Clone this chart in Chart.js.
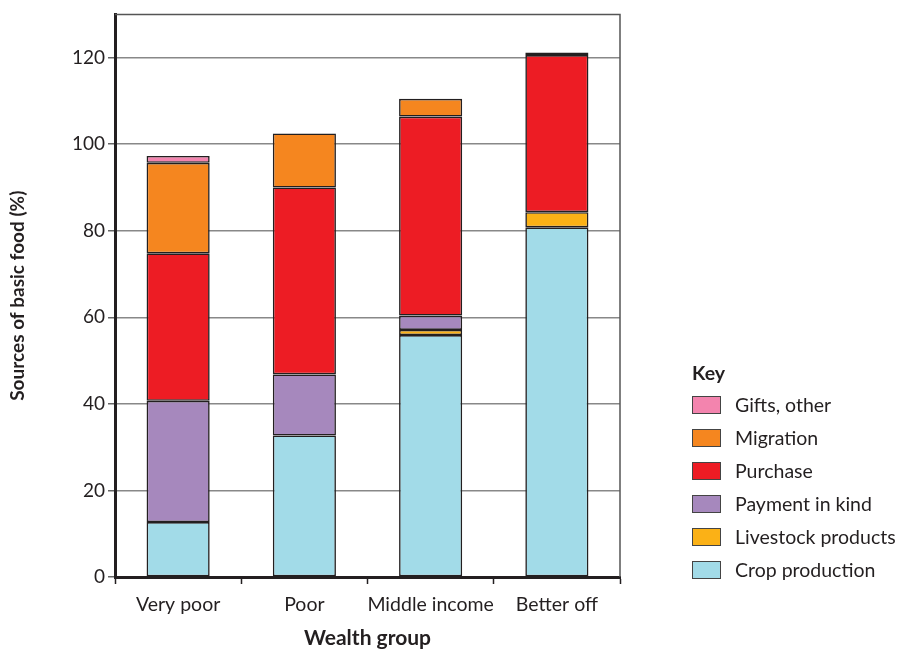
<!DOCTYPE html>
<html><head><meta charset="utf-8">
<script src="https://cdn.jsdelivr.net/npm/chart.js@4/dist/chart.umd.min.js"></script>
<style>
html,body{margin:0;padding:0;background:#fff;}
#wrap{position:relative;width:899px;height:652px;}
#legend{position:absolute;left:692px;top:360px;font-family:Lato,"Open Sans",sans-serif;color:#231f20;}
#legend .key{font-weight:bold;font-size:19.5px;height:26px;line-height:26px;margin-bottom:2px;}
#legend .row{display:flex;align-items:center;height:33px;font-size:19.5px;white-space:nowrap;}
#legend .sw{width:29px;height:18px;border:1.5px solid #444;margin-right:14px;box-sizing:border-box;}
</style></head>
<body><div id="wrap"><canvas id="c" width="899" height="652"></canvas><div id="legend"></div></div>
<script>
const categories = ["Very poor", "Poor", "Middle income", "Better off"];
const seriesNames = ["Crop production", "Livestock products", "Payment in kind", "Purchase", "Migration", "Gifts, other"];
const cropProduction   = [12.7, 32.7, 55.9, 80.8];
const livestockProducts= [0, 0, 1.2, 3.5];
const paymentInKind    = [28.0, 14.1, 3.3, 0];
const purchase         = [34.1, 43.2, 46.0, 36.3];
const migration        = [20.9, 12.5, 4.1, 0.6];
const giftsOther       = [1.6, 0, 0, 0];
const seriesColors = ["#a2dbe8", "#fbb116", "#a688bd", "#ed1c24", "#f5861f", "#f384ae"];
const yTicks = [0, 20, 40, 60, 80, 100, 120];
const yMax = 130;

const seriesData = [cropProduction, livestockProducts, paymentInKind, purchase, migration, giftsOther];
const datasets = seriesNames.map((n, i) => ({
  label: n, data: seriesData[i], backgroundColor: seriesColors[i],
  borderColor: "#231f20", borderWidth: c => (c.raw ? 1.6 : 0), borderSkipped: false,
  categoryPercentage: 1, barPercentage: 0.5
}));

const frame = {
  id: "frame",
  afterDatasetsDraw(chart) {
    const {ctx, chartArea: a} = chart;
    ctx.save();
    ctx.strokeStyle = "#555"; ctx.lineWidth = 1.5;
    ctx.beginPath();
    ctx.moveTo(a.left, a.top); ctx.lineTo(a.right, a.top); ctx.lineTo(a.right, a.bottom);
    ctx.stroke();
    ctx.restore();
  }
};

const font = "Lato";
new Chart(document.getElementById("c"), {
  type: "bar",
  data: { labels: categories, datasets },
  plugins: [frame],
  options: {
    responsive: false, animation: false,
    layout: { padding: { left: 2, top: 11, right: 279, bottom: 0 } },
    plugins: { legend: { display: false }, tooltip: { enabled: false } },
    scales: {
      x: {
        stacked: true,
        afterFit: s => { s.height = 75; },
        grid: { drawOnChartArea: false, drawTicks: true, tickLength: 7, tickWidth: 1.5, tickColor: "#231f20", offset: true },
        border: { color: "#231f20", width: 3 },
        ticks: { color: "#231f20", font: { family: font, size: 19.5 }, padding: 9, maxRotation: 0, minRotation: 0, autoSkip: false },
        title: { display: true, text: "Wealth group", color: "#231f20", font: { family: font, size: 21, weight: "bold" }, padding: { top: 7, bottom: 1 } }
      },
      y: {
        stacked: true, min: 0, max: yMax,
        afterFit: s => { s.width = 113; },
        afterBuildTicks: s => { s.ticks = yTicks.map(v => ({ value: v })); },
        grid: { color: "#888", lineWidth: 1.5, tickLength: 7, tickColor: "#666" },
        border: { color: "#231f20", width: 3 },
        ticks: { color: "#231f20", font: { family: font, size: 19 }, padding: 3 },
        title: { display: true, text: "Sources of basic food (%)", color: "#231f20", font: { family: font, size: 19, weight: "bold" }, padding: { bottom: 2 } }
      }
    }
  }
});

const lg = document.getElementById("legend");
let html = '<div class="key">Key</div>';
for (let i = seriesNames.length - 1; i >= 0; i--) {
  html += '<div class="row"><div class="sw" style="background:' + seriesColors[i] + '"></div>' + seriesNames[i] + '</div>';
}
lg.innerHTML = html;
</script></body></html>
